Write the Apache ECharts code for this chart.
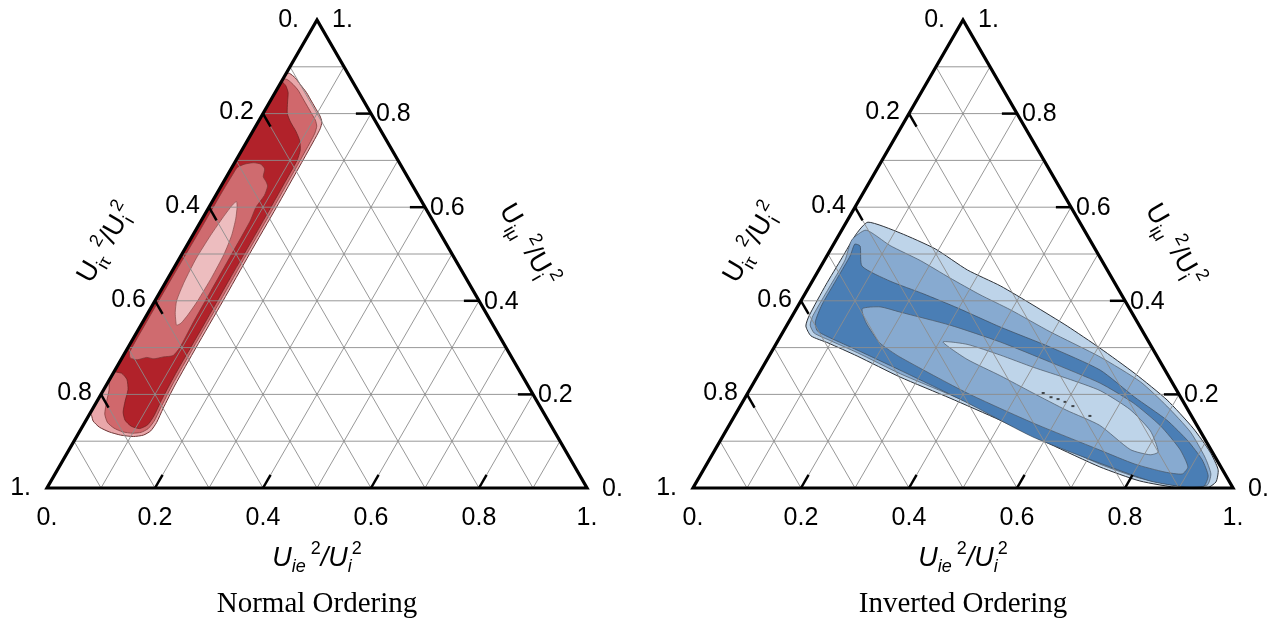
<!DOCTYPE html>
<html>
<head>
<meta charset="utf-8">
<script src="https://cdn.jsdelivr.net/npm/echarts@6/dist/echarts.min.js"></script>
<style>
html,body{margin:0;padding:0;background:#fff;}
#chart{width:1279px;height:623px;}
</style>
</head>
<body>
<div id="chart"></div>
<script>
// Ternary points are [U_ie^2/U_i^2, U_imu^2/U_i^2]; U_itau^2/U_i^2 = 1 - both.
// ---------- Normal Ordering contour levels (outer -> inner) ----------
const normalLevel1 = [[0,0.885],[0.006,0.886],[0.022,0.876],[0.037,0.863],[0.058,0.845],[0.078,0.825],[0.095,0.808],[0.108,0.795],[0.118,0.782],[0.122,0.768],[0.123,0.75],[0.124,0.69],[0.125,0.6],[0.125,0.5],[0.126,0.4],[0.126,0.3],[0.127,0.22],[0.13,0.17],[0.133,0.14],[0.131,0.122],[0.122,0.113],[0.105,0.11],[0.08,0.113],[0.055,0.12],[0.032,0.13],[0.014,0.143],[0.005,0.155],[0,0.16],[0,0.3],[0,0.5],[0,0.7]];
const normalLevel2 = [[0,0.874],[0.01,0.872],[0.025,0.862],[0.04,0.85],[0.058,0.832],[0.075,0.815],[0.092,0.798],[0.104,0.786],[0.113,0.773],[0.117,0.758],[0.118,0.74],[0.119,0.69],[0.12,0.6],[0.12,0.5],[0.121,0.4],[0.121,0.3],[0.122,0.22],[0.125,0.17],[0.127,0.143],[0.124,0.127],[0.115,0.119],[0.1,0.117],[0.08,0.12],[0.06,0.128],[0.042,0.14],[0.028,0.158],[0.018,0.185],[0.01,0.21],[0,0.232],[0,0.4],[0,0.6],[0,0.8]];
const normalLevel3 = [[0,0.868],[0.012,0.86],[0.024,0.845],[0.033,0.825],[0.045,0.8],[0.06,0.782],[0.08,0.762],[0.097,0.742],[0.108,0.722],[0.113,0.7],[0.114,0.65],[0.115,0.55],[0.115,0.45],[0.116,0.35],[0.116,0.25],[0.118,0.19],[0.121,0.155],[0.119,0.135],[0.108,0.127],[0.09,0.132],[0.072,0.145],[0.06,0.162],[0.052,0.185],[0.045,0.21],[0.032,0.232],[0.016,0.245],[0,0.25],[0,0.4],[0,0.6],[0,0.8]];
const normalLevel4 = [[0.01,0.685],[0.02,0.692],[0.035,0.695],[0.05,0.692],[0.062,0.682],[0.068,0.665],[0.078,0.655],[0.086,0.645],[0.09,0.625],[0.087,0.6],[0.091,0.57],[0.092,0.5],[0.093,0.42],[0.094,0.35],[0.096,0.3],[0.092,0.283],[0.075,0.28],[0.06,0.276],[0.045,0.279],[0.03,0.274],[0.015,0.278],[0.008,0.29],[0.007,0.35],[0.007,0.45],[0.008,0.55],[0.008,0.63],[0.009,0.67]];
const normalLevel5 = [[0.045,0.612],[0.052,0.6],[0.062,0.575],[0.072,0.54],[0.078,0.5],[0.08,0.45],[0.079,0.4],[0.076,0.37],[0.072,0.352],[0.066,0.348],[0.06,0.357],[0.05,0.375],[0.04,0.4],[0.034,0.44],[0.031,0.49],[0.033,0.54],[0.037,0.58],[0.041,0.605]];

// ---------- Inverted Ordering contour levels (outer -> inner) ----------
const invertedLevel1 = [[0.031,0.543],[0.040,0.568],[0.111,0.545],[0.193,0.511],[0.275,0.466],[0.353,0.432],[0.434,0.391],[0.520,0.346],[0.604,0.299],[0.697,0.244],[0.784,0.188],[0.862,0.128],[0.919,0.077],[0.953,0.039],[0.962,0.013],[0.952,0],[0.902,0],[0.820,0.015],[0.731,0.045],[0.614,0.094],[0.496,0.145],[0.380,0.192],[0.265,0.237],[0.163,0.282],[0.095,0.310],[0.056,0.325],[0.036,0.346],[0.031,0.368],[0.029,0.434],[0.030,0.492]];
const invertedLevel2 = [[0.029,0.530],[0.045,0.551],[0.106,0.518],[0.178,0.486],[0.251,0.449],[0.325,0.413],[0.397,0.381],[0.494,0.334],[0.614,0.280],[0.715,0.227],[0.790,0.175],[0.861,0.120],[0.915,0.066],[0.944,0.030],[0.949,0.006],[0.900,0.004],[0.817,0.021],[0.728,0.051],[0.611,0.100],[0.493,0.152],[0.377,0.199],[0.262,0.244],[0.160,0.289],[0.094,0.316],[0.059,0.331],[0.043,0.348],[0.038,0.368],[0.038,0.427],[0.038,0.487]];
const invertedLevel3 = [[0.039,0.521],[0.051,0.517],[0.076,0.474],[0.144,0.442],[0.219,0.415],[0.297,0.385],[0.397,0.344],[0.511,0.301],[0.628,0.252],[0.721,0.194],[0.805,0.145],[0.867,0.100],[0.913,0.060],[0.941,0.026],[0.944,0.004],[0.910,0.002],[0.839,0.015],[0.727,0.053],[0.575,0.109],[0.417,0.182],[0.257,0.252],[0.156,0.295],[0.093,0.321],[0.062,0.336],[0.049,0.355],[0.043,0.391],[0.043,0.451],[0.043,0.496]];
const invertedLevel4 = [[0.122,0.383],[0.153,0.387],[0.195,0.376],[0.302,0.348],[0.413,0.312],[0.527,0.269],[0.642,0.224],[0.724,0.182],[0.799,0.133],[0.860,0.083],[0.894,0.045],[0.891,0.030],[0.857,0.034],[0.793,0.051],[0.713,0.081],[0.560,0.139],[0.406,0.203],[0.243,0.280],[0.191,0.310],[0.144,0.353]];
const invertedLevel5 = [[0.307,0.312],[0.354,0.307],[0.427,0.284],[0.501,0.258],[0.576,0.234],[0.650,0.208],[0.725,0.168],[0.786,0.122],[0.823,0.077],[0.811,0.071],[0.769,0.082],[0.686,0.134],[0.609,0.166],[0.528,0.203],[0.449,0.240],[0.370,0.275]];
// tiny innermost islands (dark specks) inside the Inverted Ordering core
const invertedSpecks = [[0.547,0.203],[0.566,0.194],[0.581,0.190],[0.597,0.184],[0.616,0.175],[0.658,0.154]];

// ---------- axes / labels ----------
const gridValues = [0.1,0.2,0.3,0.4,0.5,0.6,0.7,0.8,0.9];
const tickValues = [0.2,0.4,0.6,0.8];
const tickLabels = ['0.2','0.4','0.6','0.8'];
const endLabels = ['0.','1.'];
const panelTitles = ['Normal Ordering','Inverted Ordering'];
const bottomAxisName = '{u|U}{s|ie}{p| 2}{u|/U}{s|i}{p|2}';
const leftAxisName = '{u|U}{s|iτ}{p| 2}{u|/U}{s|i}{p|2}';
const rightAxisName = '{u|U}{s|iμ}{p| 2}{u|/U}{s|i}{p|2}';

// ---------- styles ----------
const redFills = ['#e9a7aa','#d0686c','#b1222a','#cf6b6f','#edbdbf'];
const redStrokes = ['#6e3434','#7a3434','#6a2020','#7a3434','#8a4a4a'];
const blueFills = ['#bed4e9','#87aad0','#4a7eb5','#87aad0','#bed4e9'];
const blueStrokes = ['#2e3238','#4a5663','#3c4a5a','#4a5663','#4a5663'];
const SANS = '"Liberation Sans", Arial, Helvetica, sans-serif';
const SERIF = '"Liberation Serif", "Times New Roman", serif';
const TICK = 0.028;

function toXY(p) { return [p[0] + p[1] / 2, p[1]]; }

function richStyle(italic) {
  const it = italic ? 'italic ' : '';
  return {
    u: {font: it + '27px ' + SANS, fill: '#000', lineHeight: 36, verticalAlign: 'middle'},
    s: {font: it + '18px ' + SANS, fill: '#000', lineHeight: 18, verticalAlign: 'bottom'},
    p: {font: '18px ' + SANS, fill: '#000', lineHeight: 18, verticalAlign: 'top'}
  };
}

function panelSeries(gi, levels, fills, strokes, title, specks) {
  const base = {type: 'custom', coordinateSystem: 'cartesian2d', xAxisIndex: gi, yAxisIndex: gi,
    clip: false, silent: true, animation: false};
  const contours = Object.assign({}, base, {
    z: 1,
    data: levels.map((_, i) => [0.5, 0.5, i]),
    renderItem(params, api) {
      const i = params.dataIndex;
      const pts = levels[i].map(p => api.coord(toXY(p)));
      return {type: 'polygon', z2: i, shape: {points: pts, smooth: 0.2},
        style: {fill: fills[i], stroke: strokes[i], lineWidth: i === 0 ? 1 : 0.7}};
    }
  });
  const out = [contours];
  if (specks) {
    out.push({type: 'scatter', xAxisIndex: gi, yAxisIndex: gi, silent: true, z: 1,
      symbol: 'rect', symbolSize: [3, 2], itemStyle: {color: '#1e1e1e'},
      data: specks.map(toXY)});
  }
  const grid = Object.assign({}, base, {
    z: 2,
    data: [[0.5, 0.5]],
    renderItem(params, api) {
      const ch = [];
      gridValues.forEach(v => {
        [[[0, v], [1 - v, v]], [[v, 0], [v, 1 - v]], [[0, 1 - v], [1 - v, 0]]].forEach(seg => {
          const a = api.coord(toXY(seg[0])), b = api.coord(toXY(seg[1]));
          ch.push({type: 'line', shape: {x1: a[0], y1: a[1], x2: b[0], y2: b[1]},
            style: {stroke: '#8c8c8c', lineWidth: 0.9}});
        });
      });
      return {type: 'group', children: ch};
    }
  });
  const frame = Object.assign({}, base, {
    z: 3,
    data: [[0.5, 0.5]],
    renderItem(params, api) {
      const ch = [];
      const bl = api.coord(toXY([0, 0])), br = api.coord(toXY([1, 0])), top = api.coord(toXY([0, 1]));
      ch.push({type: 'polygon', shape: {points: [bl, br, top]},
        style: {fill: 'none', stroke: '#000', lineWidth: 3.2, lineJoin: 'miter', miterLimit: 10}});
      const seg = (p, q) => {
        const a = api.coord(toXY(p)), b = api.coord(toXY(q));
        ch.push({type: 'line', shape: {x1: a[0], y1: a[1], x2: b[0], y2: b[1]},
          style: {stroke: '#000', lineWidth: 2.5}});
      };
      const txt = (x, y, text, align) => {
        ch.push({type: 'text', x: x, y: y,
          style: {text: text, font: '25px ' + SANS, fill: '#000', align: align, verticalAlign: 'middle'}});
      };
      tickValues.forEach((v, k) => {
        // bottom axis (U_ie)
        seg([v, 0], [v, TICK]);
        const b = api.coord(toXY([v, 0]));
        txt(b[0], b[1] + 30, tickLabels[k], 'center');
        // left axis (U_itau): tau = v
        seg([0, 1 - v], [TICK, 1 - v - TICK]);
        const l = api.coord(toXY([0, 1 - v]));
        txt(l[0] - 9, l[1] - 1, tickLabels[k], 'right');
        // right axis (U_imu): mu = v
        seg([1 - v, v], [1 - v - TICK, v]);
        const r = api.coord(toXY([1 - v, v]));
        txt(r[0] + 5, r[1] + 1, tickLabels[k], 'left');
      });
      // end labels
      txt(bl[0], bl[1] + 30, endLabels[0], 'center');
      txt(br[0], br[1] + 30, endLabels[1], 'center');
      txt(bl[0] - 16, bl[1], endLabels[1], 'right');
      txt(top[0] - 18, top[1], endLabels[0], 'right');
      txt(top[0] + 15, top[1], endLabels[1], 'left');
      txt(br[0] + 15, br[1] + 1, endLabels[0], 'left');
      // axis names
      const cx = (bl[0] + br[0]) / 2;
      ch.push({type: 'text', x: cx, y: bl[1] + 70,
        style: {text: bottomAxisName, rich: richStyle(true), align: 'center', verticalAlign: 'middle', font: '27px ' + SANS}});
      const lm = [(bl[0] + top[0]) / 2 - 76, (bl[1] + top[1]) / 2 - 11];
      ch.push({type: 'text', x: lm[0], y: lm[1], rotation: Math.PI / 3,
        style: {text: leftAxisName, rich: richStyle(false), align: 'center', verticalAlign: 'middle', font: '27px ' + SANS}});
      const rm = [(br[0] + top[0]) / 2 + 76, (br[1] + top[1]) / 2 - 9];
      ch.push({type: 'text', x: rm[0], y: rm[1], rotation: -Math.PI / 3,
        style: {text: rightAxisName, rich: richStyle(false), align: 'center', verticalAlign: 'middle', font: '27px ' + SANS}});
      // panel title
      ch.push({type: 'text', x: cx, y: bl[1] + 116,
        style: {text: title, font: '29px ' + SERIF, fill: '#000', align: 'center', verticalAlign: 'middle'}});
      return {type: 'group', children: ch};
    }
  });
  out.push(grid, frame);
  return out;
}

const chart = echarts.init(document.getElementById('chart'), null, {renderer: 'canvas'});
const normalLevels = [normalLevel1, normalLevel2, normalLevel3, normalLevel4, normalLevel5];
const invertedLevels = [invertedLevel1, invertedLevel2, invertedLevel3, invertedLevel4, invertedLevel5];
const axisOpt = gi => ({type: 'value', gridIndex: gi, min: 0, max: 1, show: false});
chart.setOption({
  animation: false,
  backgroundColor: '#fff',
  grid: [
    {left: 47, top: 20, width: 540, height: 468},
    {left: 693, top: 20, width: 540, height: 468}
  ],
  xAxis: [axisOpt(0), axisOpt(1)],
  yAxis: [axisOpt(0), axisOpt(1)],
  series: [].concat(
    panelSeries(0, normalLevels, redFills, redStrokes, panelTitles[0], null),
    panelSeries(1, invertedLevels, blueFills, blueStrokes, panelTitles[1], invertedSpecks)
  )
});
</script>
</body>
</html>
